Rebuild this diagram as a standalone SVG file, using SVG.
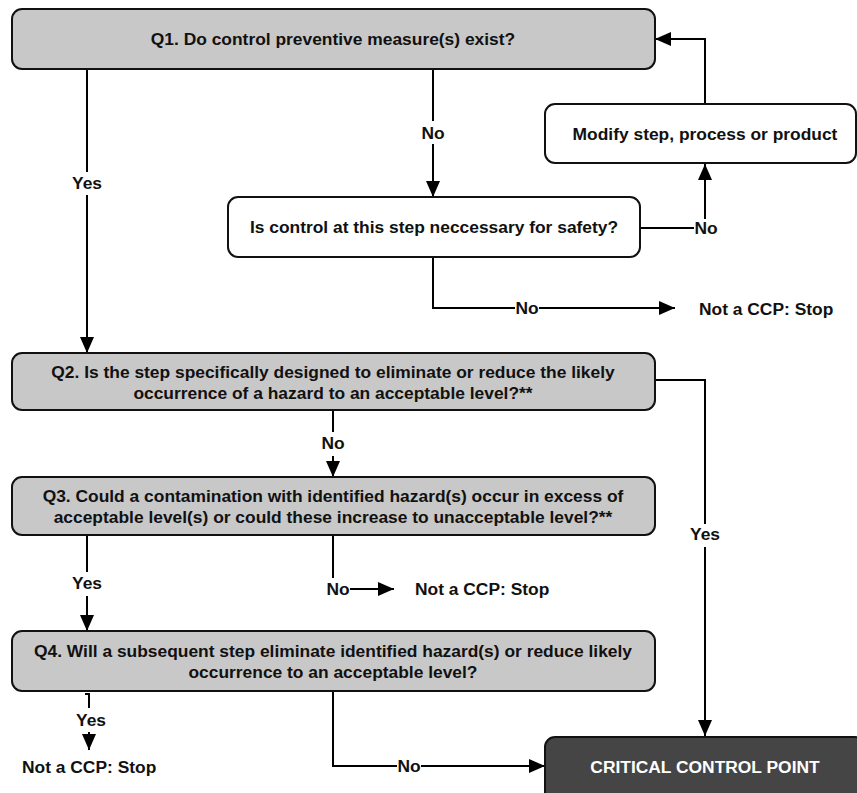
<svg xmlns="http://www.w3.org/2000/svg" width="857" height="793" viewBox="0 0 857 793">
<defs>
<marker id="ah" viewBox="0 0 16 14" refX="16" refY="7" markerWidth="16" markerHeight="14" markerUnits="userSpaceOnUse" orient="auto">
<path d="M0,0 L16,7 L0,14 Z" fill="#000"/>
</marker>
</defs>
<style>
.q{fill:#c8c8c8;stroke:#111;stroke-width:2}
.w{fill:#fff;stroke:#111;stroke-width:2}
.d{fill:#454545;stroke:#111;stroke-width:2}
.t{font-family:"Liberation Sans",Arial,sans-serif;font-weight:bold;font-size:17.4px;fill:#111;text-anchor:middle}
.l{font-family:"Liberation Sans",Arial,sans-serif;font-weight:bold;font-size:17.4px;fill:#111;text-anchor:middle}
.s{font-family:"Liberation Sans",Arial,sans-serif;font-weight:bold;font-size:17.4px;fill:#111;text-anchor:start}
.c{stroke:#000;stroke-width:2;fill:none}
.a{stroke:#000;stroke-width:2;fill:none;marker-end:url(#ah)}
</style>
<rect width="857" height="793" fill="#fff"/>
<g id="connectors">
<line class="c" x1="87" y1="69" x2="87" y2="172"/>
<line class="a" x1="87" y1="195" x2="87" y2="353"/>
<text class="l" x="87" y="189">Yes</text>
<line class="c" x1="433" y1="69" x2="433" y2="121"/>
<line class="a" x1="433" y1="144" x2="433" y2="197"/>
<text class="l" x="433" y="139">No</text>
<polyline class="a" points="705,104 705,39 655,39"/>
<line class="c" x1="640" y1="228" x2="694" y2="228"/>
<text class="l" x="706" y="234">No</text>
<line class="a" x1="705" y1="219" x2="705" y2="164"/>
<polyline class="c" points="433,257 433,308 515,308"/>
<text class="l" x="527" y="314">No</text>
<line class="a" x1="539" y1="308" x2="675" y2="308"/>
<text class="s" x="699" y="315">Not a CCP: Stop</text>
<polyline class="c" points="655,380 705,380 705,524"/>
<text class="l" x="705" y="540">Yes</text>
<line class="a" x1="705" y1="547" x2="705" y2="736"/>
<line class="c" x1="333" y1="410" x2="333" y2="432"/>
<text class="l" x="333" y="449">No</text>
<line class="a" x1="333" y1="456" x2="333" y2="477"/>
<line class="c" x1="87" y1="535" x2="87" y2="572"/>
<text class="l" x="87" y="589">Yes</text>
<line class="a" x1="87" y1="596" x2="87" y2="631"/>
<line class="c" x1="333" y1="535" x2="333" y2="578"/>
<text class="l" x="338" y="595">No</text>
<line class="a" x1="350" y1="589" x2="394" y2="589"/>
<text class="s" x="415" y="595">Not a CCP: Stop</text>
<polyline class="c" points="85,694 89,694 89,708"/>
<text class="l" x="91" y="726">Yes</text>
<line class="a" x1="89" y1="732" x2="89" y2="750"/>
<text class="s" x="22" y="773">Not a CCP: Stop</text>
<polyline class="c" points="333,691 333,766 397,766"/>
<text class="l" x="409" y="772">No</text>
<line class="a" x1="421" y1="766" x2="545" y2="766"/>
</g>
<g id="q1">
<rect class="q" x="12" y="9" width="643" height="60" rx="10"/>
<text class="t" x="333" y="45">Q1. Do control preventive measure(s) exist?</text>
</g>
<g id="modify">
<rect class="w" x="545" y="104" width="311" height="59" rx="10"/>
<text class="t" x="705" y="140">Modify step, process or product</text>
</g>
<g id="safety">
<rect class="w" x="228" y="197" width="412" height="60" rx="10"/>
<text class="t" x="434" y="233">Is control at this step neccessary for safety?</text>
</g>
<g id="q2">
<rect class="q" x="12" y="353" width="643" height="57" rx="10"/>
<text class="t" x="333" y="378">Q2. Is the step specifically designed to eliminate or reduce the likely</text>
<text class="t" x="333" y="399">occurrence of a hazard to an acceptable level?**</text>
</g>
<g id="q3">
<rect class="q" x="12" y="477" width="643" height="58" rx="10"/>
<text class="t" x="333" y="502">Q3. Could a contamination with identified hazard(s) occur in excess of</text>
<text class="t" x="333" y="523">acceptable level(s) or could these increase to unacceptable level?**</text>
</g>
<g id="q4">
<rect class="q" x="12" y="631" width="643" height="60" rx="10"/>
<text class="t" x="333" y="657">Q4. Will a subsequent step eliminate identified hazard(s) or reduce likely</text>
<text class="t" x="333" y="678">occurrence to an acceptable level?</text>
</g>
<g id="ccp">
<rect class="d" x="545" y="737" width="320" height="66" rx="10"/>
<text class="t" x="705" y="773" style="fill:#fff">CRITICAL CONTROL POINT</text>
</g>
</svg>
